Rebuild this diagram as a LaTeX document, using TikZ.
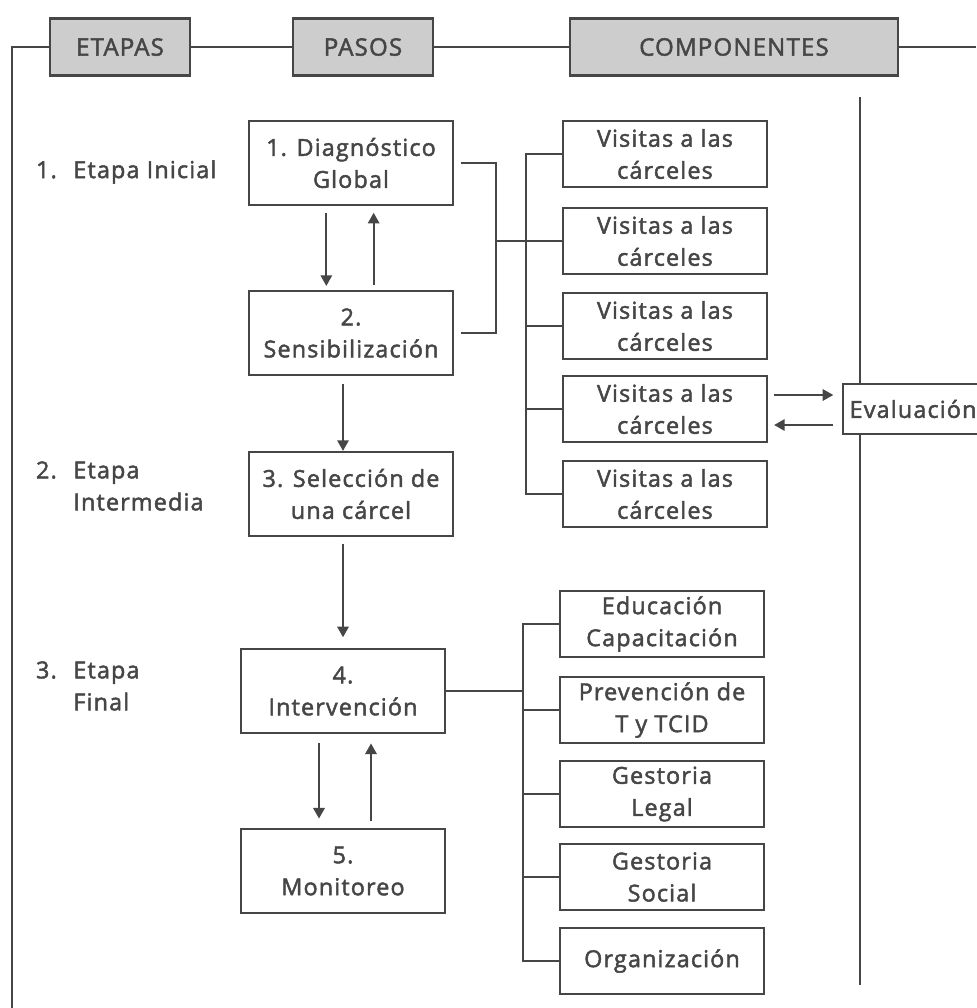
\documentclass[tikz,border=0pt]{standalone}
\usepackage{fontspec}
\setmainfont[LetterSpace=5,FakeBold=2]{Open Sans}
\usepackage{tikz}
\usetikzlibrary{arrows.meta,positioning}
\tikzstyle{paso}=[draw=mylinegray,rectangle,align=center,minimum width=153pt,minimum height=63pt,inner sep=0pt]
\tikzstyle{comp}=[draw=mylinegray,rectangle,align=center,minimum width=153pt,minimum height=50pt,inner sep=0pt]
\tikzstyle{header}=[draw=mylinegray,fill=myheadgray,rectangle,line width=2.2pt,minimum height=42.75pt,inner sep=0pt,font=\fontsize{18}{24}\selectfont]
\tikzstyle{etapa}=[anchor=west,align=left,inner sep=0pt]
\definecolor{mylinegray}{RGB}{70,70,70}
\definecolor{myheadgray}{RGB}{205,205,205}
\definecolor{mytextgray}{RGB}{70,70,70}

\begin{document}
\begin{tikzpicture}[x=0.75pt,y=-0.75pt,line width=1.6pt,color=mylinegray,text=mytextgray,font=\fontsize{17.5}{24}\selectfont,>={Triangle[length=8pt,width=8.5pt]}]
\path[use as bounding box,fill=white] (0, 0) rectangle (976, 1008);
\draw (120, 47) node [header,minimum width=105pt] (h1) {ETAPAS};
\draw (363, 47) node [header,minimum width=105pt] (h2) {PASOS};
\draw (734, 47) node [header,minimum width=246pt] (h3) {COMPONENTES};
\draw (35, 172) node [etapa] (e1) {\makebox[28pt][l]{1.}Etapa Inicial};
\draw (35, 486) node [etapa] (e2) {\makebox[28pt][l]{2.}Etapa\\\hspace*{28pt}Intermedia};
\draw (35, 686) node [etapa] (e3) {\makebox[28pt][l]{3.}Etapa\\\hspace*{28pt}Final};
\draw (351, 163) node [paso] (p1) {1. Diagnóstico\\Global};
\draw (351, 333) node [paso] (p2) {2.\\Sensibilización};
\draw (351, 494) node [paso] (p3) {3. Selección de\\una cárcel};
\draw (343, 691) node [paso] (p4) {4.\\Intervención};
\draw (343, 871) node [paso] (p5) {5.\\Monitoreo};
\draw (665, 154) node [comp] (c1) {Visitas a las\\cárceles};
\draw (665, 241) node [comp] (c2) {Visitas a las\\cárceles};
\draw (665, 326) node [comp] (c3) {Visitas a las\\cárceles};
\draw (665, 409) node [comp] (c4) {Visitas a las\\cárceles};
\draw (665, 494) node [comp] (c5) {Visitas a las\\cárceles};
\draw (662, 624) node [comp] (c6) {Educación\\Capacitación};
\draw (662, 710) node [comp] (c7) {Prevención de\\T y TCID};
\draw (662, 794) node [comp] (c8) {Gestoria\\Legal};
\draw (662, 877) node [comp] (c9) {Gestoria\\Social};
\draw (662, 961) node [comp] (c10) {Organización};
\draw (842, 409) node [comp,anchor=west,minimum width=105pt,minimum height=37.5pt] (ev) {Evaluación};
\coordinate (f1) at (12, 1008);
\coordinate (f2) at (976, 47);
\coordinate (r1) at (860, 97);
\coordinate (r2) at (860, 985);
\coordinate (j1) at (496, 244);
\coordinate (b1) at (526, 0);
\coordinate (b2) at (523, 0);
\draw (f1) |- (h1.west);
\draw (h1) -- (h2);
\draw (h2) -- (h3);
\draw (h3) -- (f2);
\draw (r1) -- (r1 |- ev.north);
\draw (r1 |- ev.south) -- (r2);
\draw[shorten <=5pt,shorten >=5pt] (p1.east) -- (p1.east -| j1) -- (p2.east -| j1) -- (p2.east);
\draw (c2.west -| j1) -- (c2.west);
\draw (c1.west) -- (c1.west -| b1) -- (c5.west -| b1) -- (c5.west);
\foreach \n in {3,4}
  \draw (c\n.west -| b1) -- (c\n.west);
\draw (p4.east) -- (p4.east -| b2);
\draw (c6.west) -- (c6.west -| b2) -- (c10.west -| b2) -- (c10.west);
\foreach \n in {7,8,9}
  \draw (c\n.west -| b2) -- (c\n.west);
\draw[->,shorten <=5pt,shorten >=3pt] ([xshift=-18.5pt]p1.south) -- ([xshift=-18.5pt]p2.north);
\draw[->,shorten <=4pt,shorten >=5pt] ([xshift=17pt]p2.north) -- ([xshift=17pt]p1.south);
\draw[->,shorten <=6pt] ([xshift=-6pt]p2.south) -- ([xshift=-6pt]p3.north);
\draw[->,shorten <=5pt,shorten >=8pt] (p3.south -| p4.north) -- (p4.north);
\draw[->,shorten <=7pt,shorten >=7pt] ([xshift=-18pt]p4.south) -- ([xshift=-18pt]p5.north);
\draw[->,shorten <=5pt,shorten >=7pt] ([xshift=21pt]p5.north) -- ([xshift=21pt]p4.south);
\draw[->,shorten <=4.5pt,shorten >=6.5pt] ([yshift=10.5pt]c4.east) -- ([yshift=10.5pt]ev.west);
\draw[->,shorten <=6.5pt,shorten >=4.5pt] ([yshift=-12pt]ev.west) -- ([yshift=-12pt]c4.east);
\end{tikzpicture}
\end{document}
